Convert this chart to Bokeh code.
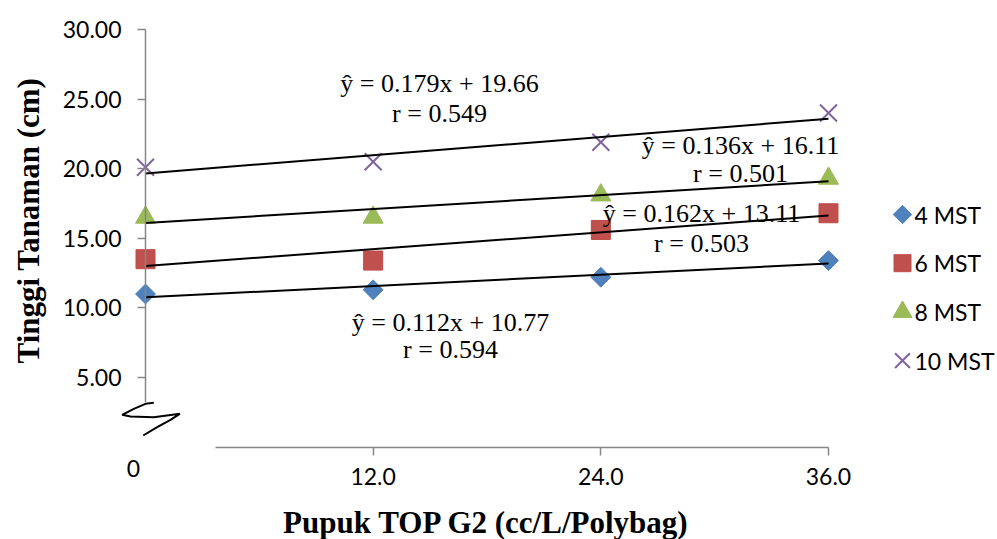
import math
import numpy as np
from bokeh.plotting import figure
from bokeh.models import (Range1d, LinearAxis, FixedTicker, NumeralTickFormatter,
                          Label, ColumnDataSource)
from bokeh.embed import file_html
from bokeh.resources import INLINE

# ---------------- data ----------------
doses = [0, 12, 24, 36]
series_names = ["4 MST", "6 MST", "8 MST", "10 MST"]
mst4 = [11.0, 11.3, 12.2, 13.4]
mst6 = [13.5, 13.4, 15.6, 16.8]
mst8 = [16.5, 16.5, 18.1, 19.3]
mst10 = [20.1, 20.5, 21.9, 24.0]
equations = ["ŷ = 0.112x + 10.77", "ŷ = 0.162x + 13.11",
             "ŷ = 0.136x + 16.11", "ŷ = 0.179x + 19.66"]
r_values = ["r = 0.594", "r = 0.503", "r = 0.501", "r = 0.549"]
y_ticks = [5, 10, 15, 20, 25, 30]
x_ticks = [12, 24, 36]
x_title = "Pupuk TOP G2 (cc/L/Polybag)"
y_title = "Tinggi Tanaman (cm)"

# ---------------- layout ----------------
W, H = 997, 539
X0, X1 = -7.643, 44.908
Y0, Y1 = -6.638, 32.083


def dx(px):
    return X0 + px * (X1 - X0) / W


def dy(py):
    return Y1 - py * (Y1 - Y0) / H


p = figure(width=W, height=H, x_range=Range1d(X0, X1), y_range=Range1d(Y0, Y1),
           output_backend="svg", toolbar_location=None,
           x_axis_location=None, y_axis_location=None, min_border=0,
           outline_line_color=None, background_fill_color="white",
           border_fill_color="white")
p.xgrid.visible = False
p.ygrid.visible = False

AX = "#868686"
yax = LinearAxis(fixed_location=0, bounds=(3.2, 30),
                 ticker=FixedTicker(ticks=y_ticks),
                 formatter=NumeralTickFormatter(format="0.00"),
                 axis_line_color=AX, axis_line_width=1.5,
                 major_tick_line_color=AX, major_tick_line_width=1.5,
                 major_tick_out=8, major_tick_in=0,
                 minor_tick_line_color=None,
                 major_label_text_font="Lato", major_label_text_font_size="23px",
                 major_label_text_color="black", major_label_standoff=16)
p.add_layout(yax, "left")

xax = LinearAxis(fixed_location=0, bounds=(3.69, 36),
                 ticker=FixedTicker(ticks=x_ticks),
                 formatter=NumeralTickFormatter(format="0.0"),
                 axis_line_color=AX, axis_line_width=1.5,
                 major_tick_line_color=AX, major_tick_line_width=1.5,
                 major_tick_out=8, major_tick_in=0,
                 minor_tick_line_color=None,
                 major_label_text_font="Lato", major_label_text_font_size="23px",
                 major_label_text_color="black", major_label_standoff=13)
p.add_layout(xax, "below")

# axis break squiggle (decoration)
brk = [(153.3, 402.3), (145, 403.3), (133.3, 408.3), (121.7, 414.3), (130, 416),
       (153.3, 416.7), (179.3, 413.3), (170, 419.3), (156.7, 426.7), (142.7, 435)]
p.line([dx(a) for a, b in brk], [dy(b) for a, b in brk], line_color="black",
       line_width=2)

# ---------------- series ----------------
styles = [
    dict(marker="square", angle=math.pi / 4, size=14, fill_color="#4F81BD",
         line_color="#4A7EBB"),
    dict(marker="square", angle=0, size=19, fill_color="#C0504D",
         line_color="#BE4B48"),
    dict(marker="triangle", angle=0, size=20, fill_color="#9BBB59",
         line_color="#98B954"),
    dict(marker="x", angle=0, size=24, fill_color=None, line_color="#8064A2",
         line_width=2),
]
legend_sizes = [13, 17, 19, 21]
all_series = [mst4, mst6, mst8, mst10]

for vals, st in zip(all_series, styles):
    src = ColumnDataSource(dict(x=doses, y=vals))
    p.scatter("x", "y", source=src, **st)

for vals in all_series:
    slope, icpt = np.polyfit(doses, vals, 1)
    xs = [doses[0], doses[-1]]
    ys = [slope * xv + icpt for xv in xs]
    p.line(xs, ys, line_color="black", line_width=2)

# equation labels (pixel centres)
eq_pos = [(450, 322, 349), (701, 213, 243), (740, 145, 173), (439, 83, 113)]
for eq, rv, (cx, y1, y2) in zip(equations, r_values, eq_pos):
    for t, yy in ((eq, y1), (rv, y2)):
        p.add_layout(Label(x=dx(cx), y=dy(yy), text=t, text_align="center",
                           text_baseline="middle", text_font="Liberation Serif",
                           text_font_size="26px", text_color="black"))

# manual legend
for i, (name, st) in enumerate(zip(series_names, styles)):
    ly = 214 + 48.7 * i
    st2 = dict(st)
    st2["size"] = legend_sizes[i]
    p.scatter([dx(902)], [dy(ly)], **st2)
    p.add_layout(Label(x=dx(914), y=dy(ly), text=name, text_align="left",
                       text_baseline="middle", text_font="Lato",
                       text_font_size="23px", text_color="black"))

# "0" category label at the break
p.add_layout(Label(x=dx(133), y=dy(468), text="0", text_align="center",
                   text_baseline="middle", text_font="Lato",
                   text_font_size="23px", text_color="black"))

# axis titles
p.add_layout(Label(x=dx(486), y=dy(522), text=x_title, text_align="center",
                   text_baseline="middle", text_font="Liberation Serif",
                   text_font_style="bold", text_font_size="31px",
                   text_color="black"))
p.add_layout(Label(x=dx(28), y=dy(220), text=y_title, text_align="center",
                   text_baseline="middle", angle=math.pi / 2,
                   text_font="Liberation Serif", text_font_style="bold",
                   text_font_size="31px", text_color="black"))

open("out.html", "w").write(file_html(p, INLINE))
